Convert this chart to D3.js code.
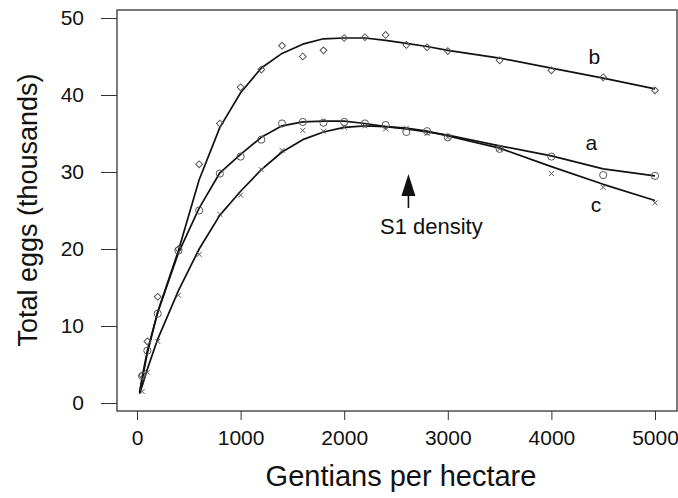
<!DOCTYPE html>
<html>
<head>
<meta charset="utf-8">
<script src="https://cdn.jsdelivr.net/npm/d3@7"></script>
<style>
  body { margin: 0; background: #fff; }
  text { font-family: Arial, "Liberation Sans", sans-serif; fill: #111; }
</style>
</head>
<body>
<div id="chart"></div>
<script>
// observed densities (gentians per hectare)
const densities = [50, 100, 200, 400, 600, 800, 1000, 1200, 1400, 1600, 1800, 2000, 2200, 2400, 2600, 2800, 3000, 3500, 4000, 4500, 5000];
// observed total eggs (thousands)
const obsA = [3.5, 6.8, 11.6, 19.8, 25, 29.8, 32, 34.2, 36.3, 36.5, 36.4, 36.5, 36.3, 36.1, 35.2, 35.3, 34.5, 33, 32, 29.6, 29.5];
const obsB = [3.6, 8.0, 13.8, 20, 31, 36.3, 41, 43.3, 46.4, 45, 45.8, 47.4, 47.5, 47.8, 46.5, 46.2, 45.7, 44.5, 43.2, 42.3, 40.6];
const obsC = [1.5, 4, 8, 14, 19.3, 24.5, 27, 30.3, 32.8, 35.4, 35.3, 35.8, 36, 35.6, 35.7, 35, 34.5, 33, 29.8, 28, 26];

// fitted curves
const fitX = [25, 50, 100, 200, 400, 600, 800, 1000, 1200, 1400, 1600, 1800, 2000, 2200, 2400, 2600, 2800, 3000, 3500, 4000, 4500, 5000];
const fitA = [1.3, 3.4, 6.8, 11.8, 19.5, 25.3, 29.9, 32.3, 34.5, 36.0, 36.5, 36.6, 36.6, 36.3, 35.9, 35.6, 35.2, 34.8, 33.4, 32.1, 30.4, 29.5];
const fitB = [1.4, 3.0, 6.5, 11.8, 19.8, 29, 35.8, 40.3, 43.5, 45.4, 46.6, 47.3, 47.4, 47.4, 47.1, 46.7, 46.3, 45.8, 44.8, 43.5, 42.2, 40.8];
const fitC = [1.2, 2.2, 4.4, 8.3, 14.6, 20, 24.4, 27.5, 30.3, 32.6, 34.2, 35.2, 35.8, 36.0, 35.9, 35.7, 35.3, 34.7, 33.1, 30.7, 28.4, 26.3];

const curveLabels = ["a", "b", "c"];
const labelPos = [[4385, 32.9], [4415, 44.0], [4430, 24.8]];
const xTicks = [0, 1000, 2000, 3000, 4000, 5000];
const yTicks = [0, 10, 20, 30, 40, 50];
const s1Density = 2620;

const W = 678, H = 498;
const frame = { left: 117, right: 677, top: 10, bottom: 411 };

const svg = d3.select("#chart").append("svg")
  .attr("width", W).attr("height", H);

const x = d3.scaleLinear().domain([0, 5000]).range([137, 655]);
const y = d3.scaleLinear().domain([0, 50]).range([403, 18]);

// frame
svg.append("rect")
  .attr("x", frame.left).attr("y", frame.top)
  .attr("width", frame.right - frame.left).attr("height", frame.bottom - frame.top)
  .attr("fill", "none").attr("stroke", "#333").attr("stroke-width", 1.3);

// axes
const yAxis = svg.append("g")
  .attr("transform", `translate(${frame.left},0)`)
  .call(d3.axisLeft(y).tickValues(yTicks).tickSize(16).tickPadding(17).tickSizeOuter(0));
yAxis.select(".domain").remove();
yAxis.selectAll("line").attr("stroke", "#333");
yAxis.selectAll("text").style("font-size", "21px").attr("fill", "#111");

const xAxis = svg.append("g")
  .attr("transform", `translate(0,${frame.bottom})`)
  .call(d3.axisBottom(x).tickValues(xTicks).tickFormat(d3.format("d")).tickSize(9).tickPadding(10).tickSizeOuter(0));
xAxis.select(".domain").remove();
xAxis.selectAll("line").attr("stroke", "#333");
xAxis.selectAll("text").style("font-size", "21px").attr("fill", "#111");

// axis titles
svg.append("text")
  .attr("x", 401).attr("y", 486)
  .attr("text-anchor", "middle")
  .style("font-size", "29px")
  .text("Gentians per hectare");

svg.append("text")
  .attr("transform", "translate(37,210) rotate(-90)")
  .attr("text-anchor", "middle")
  .style("font-size", "27px")
  .text("Total eggs (thousands)");

// fitted lines
const line = d3.line().x(d => x(d[0])).y(d => y(d[1]));
[fitA, fitB, fitC].forEach(f => {
  svg.append("path")
    .datum(fitX.map((v, i) => [v, f[i]]))
    .attr("d", line)
    .attr("fill", "none")
    .attr("stroke", "#111")
    .attr("stroke-width", 1.7)
    .attr("stroke-linejoin", "round");
});

const markColor = "#555";

// circles: a
svg.append("g").selectAll("circle")
  .data(densities.map((v, i) => [v, obsA[i]]))
  .join("circle")
  .attr("cx", d => x(d[0])).attr("cy", d => y(d[1]))
  .attr("r", 3.6)
  .attr("fill", "none").attr("stroke", markColor).attr("stroke-width", 1);

// diamonds: b
svg.append("g").selectAll("path")
  .data(densities.map((v, i) => [v, obsB[i]]))
  .join("path")
  .attr("transform", d => `translate(${x(d[0])},${y(d[1])}) rotate(45)`)
  .attr("d", "M-2.4,-2.4H2.4V2.4H-2.4Z")
  .attr("fill", "none").attr("stroke", markColor).attr("stroke-width", 1);

// crosses: c
svg.append("g").selectAll("path")
  .data(densities.map((v, i) => [v, obsC[i]]))
  .join("path")
  .attr("transform", d => `translate(${x(d[0])},${y(d[1])})`)
  .attr("d", "M-2.5,-2.5L2.5,2.5M-2.5,2.5L2.5,-2.5")
  .attr("fill", "none").attr("stroke", markColor).attr("stroke-width", 1);

// curve labels
svg.append("g").selectAll("text")
  .data(curveLabels)
  .join("text")
  .attr("x", (d, i) => x(labelPos[i][0]))
  .attr("y", (d, i) => y(labelPos[i][1]))
  .attr("text-anchor", "middle")
  .style("font-size", "21px")
  .text(d => d);

// S1 density arrow
const ax = x(s1Density);
svg.append("path")
  .attr("d", `M${ax},174 L${ax + 7},196 L${ax - 7},196 Z`)
  .attr("fill", "#111");
svg.append("line")
  .attr("x1", ax).attr("x2", ax).attr("y1", 194).attr("y2", 208)
  .attr("stroke", "#111").attr("stroke-width", 1.6);
svg.append("text")
  .attr("x", 380).attr("y", 234)
  .style("font-size", "22px")
  .text("S1 density");
</script>
</body>
</html>
